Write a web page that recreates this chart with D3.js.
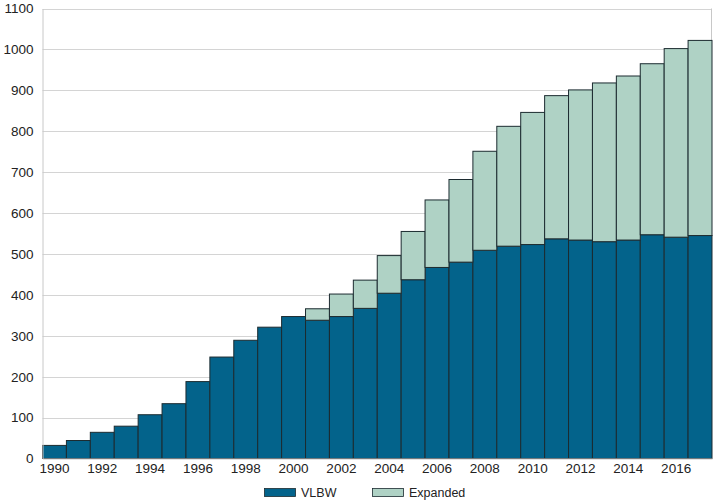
<!DOCTYPE html>
<html>
<head>
<meta charset="utf-8">
<script src="https://cdn.jsdelivr.net/npm/d3@7"></script>
<style>
  html, body { margin: 0; padding: 0; background: #fff; }
  svg { display: block; font-family: "Liberation Sans", Arial, Helvetica, sans-serif; }
</style>
</head>
<body>
<svg id="chart" width="713" height="500"></svg>
<script>
const years = [1990,1991,1992,1993,1994,1995,1996,1997,1998,1999,2000,2001,2002,2003,2004,2005,2006,2007,2008,2009,2010,2011,2012,2013,2014,2015,2016,2017];
const vlbw = [32,44,64,79,107,134,188,248,289,321,347,338,347,367,404,437,467,480,509,519,523,537,534,530,534,547,541,545];
const expanded = [0,0,0,0,0,0,0,0,0,0,0,28,55,69,92,118,165,202,242,293,323,350,367,388,401,418,461,477];
const yTicks = [0,100,200,300,400,500,600,700,800,900,1000,1100];
const xTickYears = [1990,1992,1994,1996,1998,2000,2002,2004,2006,2008,2010,2012,2014,2016];
const seriesNames = ["VLBW", "Expanded"];
const colors = ["#03638b", "#afd2c5"];

const svg = d3.select("#chart");
const margin = {left: 42.5, right: 1, top: 8.5, bottom: 41.5};
const W = 713, H = 500;
const x = d3.scaleBand().domain(years).range([margin.left, W - margin.right]).padding(0);
const y = d3.scaleLinear().domain([0, 1100]).range([H - margin.bottom, margin.top]);

const table = years.map((yr, i) => ({year: yr, VLBW: vlbw[i], Expanded: expanded[i]}));
const stacked = d3.stack().keys(seriesNames)(table);

// gridlines
svg.append("g").selectAll("line").data(yTicks.filter(d => d > 0)).join("line")
  .attr("x1", margin.left).attr("x2", W - margin.right)
  .attr("y1", d => Math.round(y(d)) + 0.5).attr("y2", d => Math.round(y(d)) + 0.5)
  .attr("stroke", "#d4d4d4").attr("stroke-width", 1);

// plot frame (right side)
svg.append("line")
  .attr("x1", W - margin.right - 0.5).attr("x2", W - margin.right - 0.5)
  .attr("y1", y(1100)).attr("y2", y(0))
  .attr("stroke", "#c8c8c8");

// bars
svg.append("g").selectAll("g").data(stacked).join("g")
  .attr("fill", (d, i) => colors[i])
  .selectAll("rect").data(d => d.filter(s => s[1] - s[0] > 0)).join("rect")
  .attr("x", d => x(d.data.year))
  .attr("width", x.bandwidth())
  .attr("y", d => y(d[1]))
  .attr("height", d => y(d[0]) - y(d[1]))
  .attr("stroke", "#1c2b30")
  .attr("stroke-width", 1);

// y axis
const yAxis = d3.axisLeft(y).tickValues(yTicks).tickFormat(d3.format("d")).tickSize(0).tickPadding(9);
const gy = svg.append("g").attr("transform", `translate(${margin.left},0)`).call(yAxis);
gy.select(".domain").attr("stroke", "#c8c8c8");
gy.selectAll("text").attr("font-size", 13.5).attr("fill", "#222").attr("font-family", "Liberation Sans, Arial, sans-serif");

// x axis
const xAxis = d3.axisBottom(x).tickValues(xTickYears).tickFormat(d3.format("d")).tickSize(0).tickPadding(5);
const gx = svg.append("g").attr("transform", `translate(0,${H - margin.bottom})`).call(xAxis);
gx.select(".domain").attr("stroke", "#c8c8c8");
gx.selectAll("text").attr("font-size", 13.5).attr("fill", "#222").attr("font-family", "Liberation Sans, Arial, sans-serif");

// legend
const legendX = [264, 372];
const lg = svg.append("g");
seriesNames.forEach((name, i) => {
  lg.append("rect").attr("x", legendX[i] + 0.5).attr("y", 488.5).attr("width", 31).attr("height", 8)
    .attr("fill", colors[i]).attr("stroke", "#1c2b30").attr("stroke-width", 0.8);
  lg.append("text").attr("x", legendX[i] + 37).attr("y", 496.5).text(name)
    .attr("font-size", 12.5).attr("fill", "#222");
});
</script>
</body>
</html>
